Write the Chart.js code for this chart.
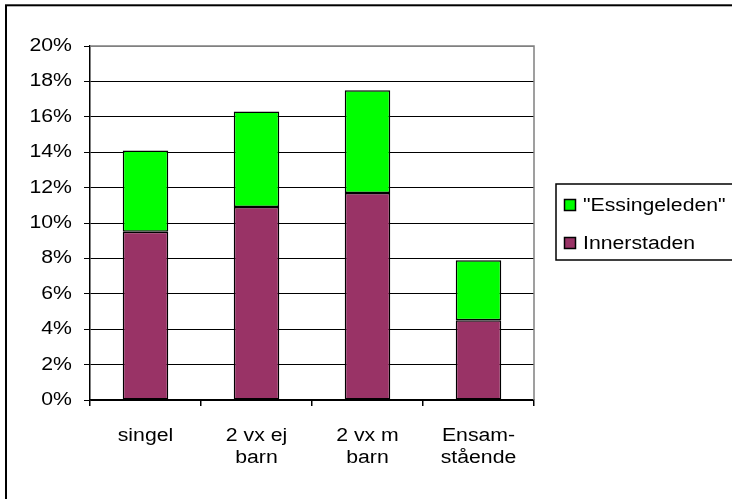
<!DOCTYPE html>
<html>
<head>
<meta charset="utf-8">
<script src="https://cdn.jsdelivr.net/npm/chart.js@4/dist/chart.umd.min.js"></script>
<style>
  html, body { margin: 0; padding: 0; background: #fff; }
  canvas { display: block; }
</style>
</head>
<body>
<canvas id="c" width="732" height="499"></canvas>
<script>
// Household types on the x axis
const categories = [["singel"], ["2 vx ej", "barn"], ["2 vx m", "barn"], ["Ensam-", "stående"]];
// Share per household type (percent), stacked
const innerstaden = [9.5, 10.9, 11.7, 4.5];
const essingeleden = [4.6, 5.4, 5.8, 3.4];
const seriesNames = ["Innerstaden", "\"Essingeleden\""];
const yTicks = [0, 2, 4, 6, 8, 10, 12, 14, 16, 18, 20];

const FONT = "'Liberation Sans', Arial, sans-serif";
const FONT_SIZE = 18;
const TEXT_STRETCH = 1.18; // wide-set text, as in the original worksheet export

const canvas = document.getElementById('c');
const ctx = canvas.getContext('2d');

// Horizontally widened text rendering
const baseFill = ctx.fillText.bind(ctx);
const baseMeasure = ctx.measureText.bind(ctx);
ctx.fillText = function (t, x, y, maxWidth) {
  ctx.save();
  ctx.translate(x, y);
  ctx.scale(TEXT_STRETCH, 1);
  baseFill(t, 0, 0);
  ctx.restore();
};
ctx.measureText = function (t) {
  const m = baseMeasure(t);
  return { width: m.width * TEXT_STRETCH,
           actualBoundingBoxAscent: m.actualBoundingBoxAscent,
           actualBoundingBoxDescent: m.actualBoundingBoxDescent };
};

const frame = {
  id: 'frame',
  afterDraw(chart) {
    const c = chart.ctx;
    const a = chart.chartArea;
    c.save();
    // plot area border, top and right in grey
    c.strokeStyle = '#808080';
    c.lineWidth = 1.5;
    c.beginPath();
    c.moveTo(a.left, a.top);
    c.lineTo(a.right, a.top);
    c.lineTo(a.right, a.bottom);
    c.stroke();

    // outer chart border
    c.strokeStyle = '#000';
    c.lineWidth = 2;
    c.strokeRect(6, 5.3, 760, 520);

    // legend box
    c.lineWidth = 1.5;
    c.strokeRect(556, 184, 200, 76);
    const ds = chart.data.datasets;
    const items = [ds[1], ds[0]];
    c.font = FONT_SIZE + 'px ' + FONT;
    c.textAlign = 'left';
    c.textBaseline = 'middle';
    items.forEach((d, i) => {
      const cy = 205 + i * 38;
      c.fillStyle = d.backgroundColor;
      c.fillRect(564.5, cy - 5.5, 11, 11);
      c.lineWidth = 1.5;
      c.strokeStyle = '#000';
      c.strokeRect(564.5, cy - 5.5, 11, 11);
      c.fillStyle = '#000';
      c.fillText(d.label, 583, cy + 1);
    });
    c.restore();
  }
};

new Chart(ctx, {
  type: 'bar',
  data: {
    labels: categories,
    datasets: [
      { label: seriesNames[0], data: innerstaden, backgroundColor: '#993366',
        borderColor: '#000', borderWidth: 1.5, borderSkipped: false },
      { label: seriesNames[1], data: essingeleden, backgroundColor: '#00ff00',
        borderColor: '#000', borderWidth: 1.5, borderSkipped: false }
    ]
  },
  options: {
    responsive: false,
    animation: false,
    devicePixelRatio: 1,
    layout: { padding: { top: 46, right: 198, left: 0, bottom: 0 } },
    datasets: { bar: { categoryPercentage: 1, barPercentage: 0.41 } },
    plugins: { legend: { display: false }, tooltip: { enabled: false } },
    scales: {
      x: {
        stacked: true,
        afterFit(s) { s.height = 99; },
        grid: { drawOnChartArea: false, drawTicks: true, tickLength: 6,
                color: '#000', lineWidth: 1.5, offset: true },
        border: { color: '#000', width: 1.5 },
        ticks: { color: '#000', font: { family: FONT, size: FONT_SIZE, lineHeight: 1.22 },
                 padding: 19, maxRotation: 0, autoSkip: false }
      },
      y: {
        stacked: true,
        min: 0, max: 20,
        afterFit(s) { s.width = 90; },
        afterBuildTicks(s) { s.ticks = yTicks.map(v => ({ value: v })); },
        grid: {
          color: (c) => (c.tick && c.tick.value === 20 ? '#808080' : '#000'),
          tickColor: '#000', lineWidth: 1, tickLength: 6
        },
        border: { color: '#000', width: 1.5 },
        ticks: { color: '#000', font: { family: FONT, size: FONT_SIZE }, padding: 12,
                 callback: (v) => v + '%' }
      }
    }
  },
  plugins: [frame]
});
</script>
</body>
</html>
